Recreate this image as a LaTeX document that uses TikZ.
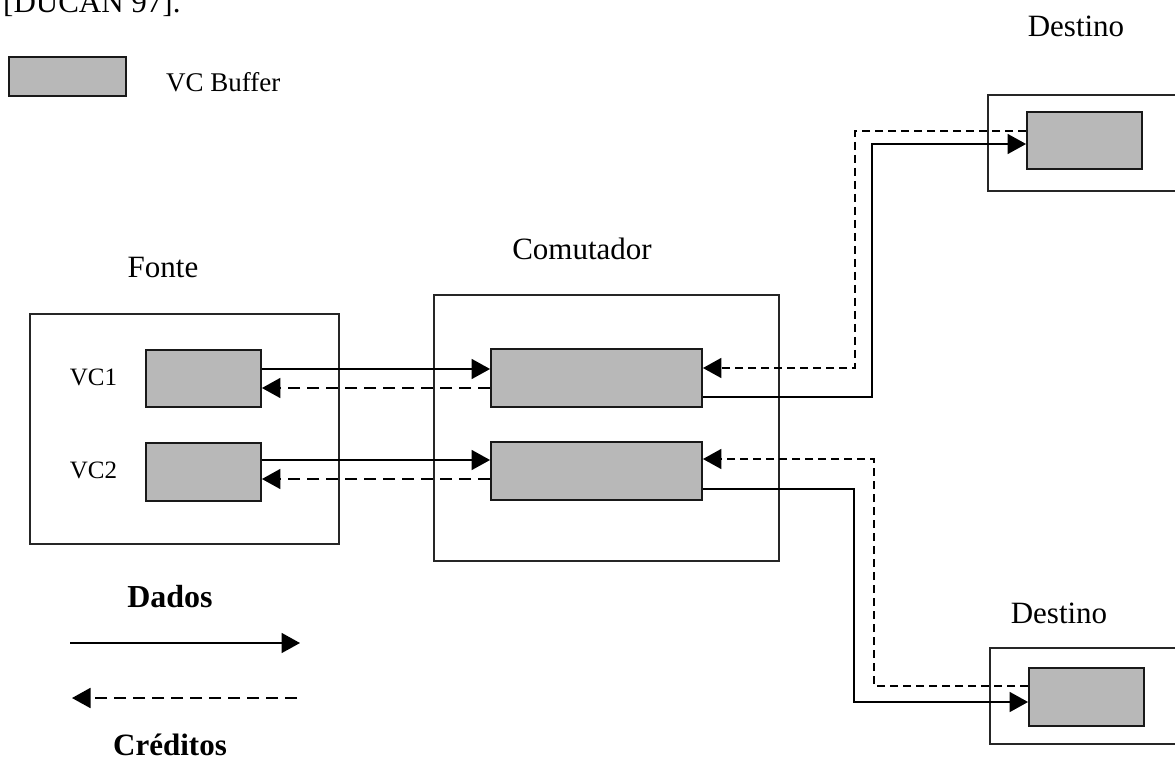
\documentclass[tikz,border=0pt]{standalone}
\usepackage{fontspec}
\setmainfont{Liberation Serif}
\usetikzlibrary{arrows.meta,calc}

\definecolor{bufgray}{RGB}{184,184,184}

\tikzset{
  box/.style={draw=black!85, line width=1.6pt, fill=none, inner sep=0pt},
  buffer/.style={draw=black!90, line width=1.9pt, fill=bufgray, inner sep=0pt},
  lbl/.style={inner sep=0pt, anchor=base, font=\fontsize{31}{36}\selectfont},
  vclbl/.style={inner sep=0pt, anchor=base, font=\fontsize{25}{30}\selectfont},
  tip/.style={-{Triangle[length=18.5pt,width=20pt]}},
  data/.style={line width=1.8pt, tip},
  creditlong/.style={line width=1.8pt, dash pattern=on 12pt off 7pt, tip},
  creditshort/.style={line width=1.8pt, dash pattern=on 8pt off 5pt, tip},
}

\begin{document}
\begin{tikzpicture}[x=1pt, y=-1pt]
  \clip (0,0) rectangle (1175,760);
  \fill[white] (0,0) rectangle (1175,760);

  % citation line at the top edge of the page
  \node[inner sep=0pt, anchor=base west, font=\fontsize{31}{36}\selectfont] (cite) at (3,13) {[DUCAN 97].};

  % legend: buffer symbol
  \node[buffer, minimum width=117pt, minimum height=39pt] (lbuf) at (67.5,76.5) {};
  \node[inner sep=0pt, anchor=base west, font=\fontsize{27}{32}\selectfont] (lbuftxt) at (166,92) {VC Buffer};

  % source
  \node[box, minimum width=309pt, minimum height=230pt] (fonte) at (184.5,429) {};
  \node[lbl] (fontelbl) at (163,277) {Fonte};
  \node[buffer, minimum width=115pt, minimum height=57pt] (vc1) at (203.5,378.5) {};
  \node[buffer, minimum width=115pt, minimum height=58pt] (vc2) at (203.5,472) {};
  \node[vclbl] (vc1lbl) at (93.5,385) {VC1};
  \node[vclbl] (vc2lbl) at (93.5,478) {VC2};

  % switch
  \node[box, minimum width=345pt, minimum height=266pt] (comut) at (606.5,428) {};
  \node[lbl] (comutlbl) at (582,259) {Comutador};
  \node[buffer, minimum width=211pt, minimum height=58pt] (s1) at (596.5,378) {};
  \node[buffer, minimum width=211pt, minimum height=58pt] (s2) at (596.5,471) {};

  % destinations
  \node[box, minimum width=212pt, minimum height=96pt] (dest1) at (1094,143) {};
  \node[lbl] (dest1lbl) at (1076,37) {Destino};
  \node[buffer, minimum width=115pt, minimum height=57pt] (d1) at (1084.5,140.5) {};

  \node[box, minimum width=212pt, minimum height=96pt] (dest2) at (1096,696) {};
  \node[lbl] (dest2lbl) at (1059,623) {Destino};
  \node[buffer, minimum width=115pt, minimum height=58pt] (d2) at (1086.5,697) {};

  % source <-> switch
  \draw[data] ($(vc1.east)+(0,-9.5)$) -- ($(s1.west)+(0,-9)$);
  \draw[creditlong] ($(s1.west)+(0,10)$) -- ($(vc1.east)+(0,9.5)$);
  \draw[data] ($(vc2.east)+(0,-12)$) -- ($(s2.west)+(0,-11)$);
  \draw[creditlong] ($(s2.west)+(0,8)$) -- ($(vc2.east)+(0,7)$);

  % switch <-> upper destination
  \draw[creditshort] ($(d1.west)+(0,-9.5)$) -| ($(s1.east)+(152,-10)$) -- ($(s1.east)+(0,-10)$);
  \draw[data] ($(s1.east)+(0,19)$) -| ($(d1.west)+(-154,3.5)$) -- ($(d1.west)+(0,3.5)$);

  % switch <-> lower destination
  \draw[creditshort] ($(d2.west)+(0,-11)$) -| ($(s2.east)+(171,-12)$) -- ($(s2.east)+(0,-12)$);
  \draw[data] ($(s2.east)+(0,18)$) -| ($(d2.west)+(-174,5)$) -- ($(d2.west)+(0,5)$);

  % legend: arrows
  \node[lbl, font=\fontsize{32}{36}\selectfont\bfseries] (dados) at (170,607) {Dados};
  \coordinate (dadosA) at (70,643);
  \coordinate (dadosB) at (300,643);
  \draw[data] (dadosA) -- (dadosB);
  \coordinate (credA) at (297,698);
  \coordinate (credB) at (72,698);
  \draw[creditlong] (credA) -- (credB);
  \node[lbl, font=\fontsize{31}{36}\selectfont\bfseries] (creditos) at (170,755) {Créditos};
\end{tikzpicture}
\end{document}
